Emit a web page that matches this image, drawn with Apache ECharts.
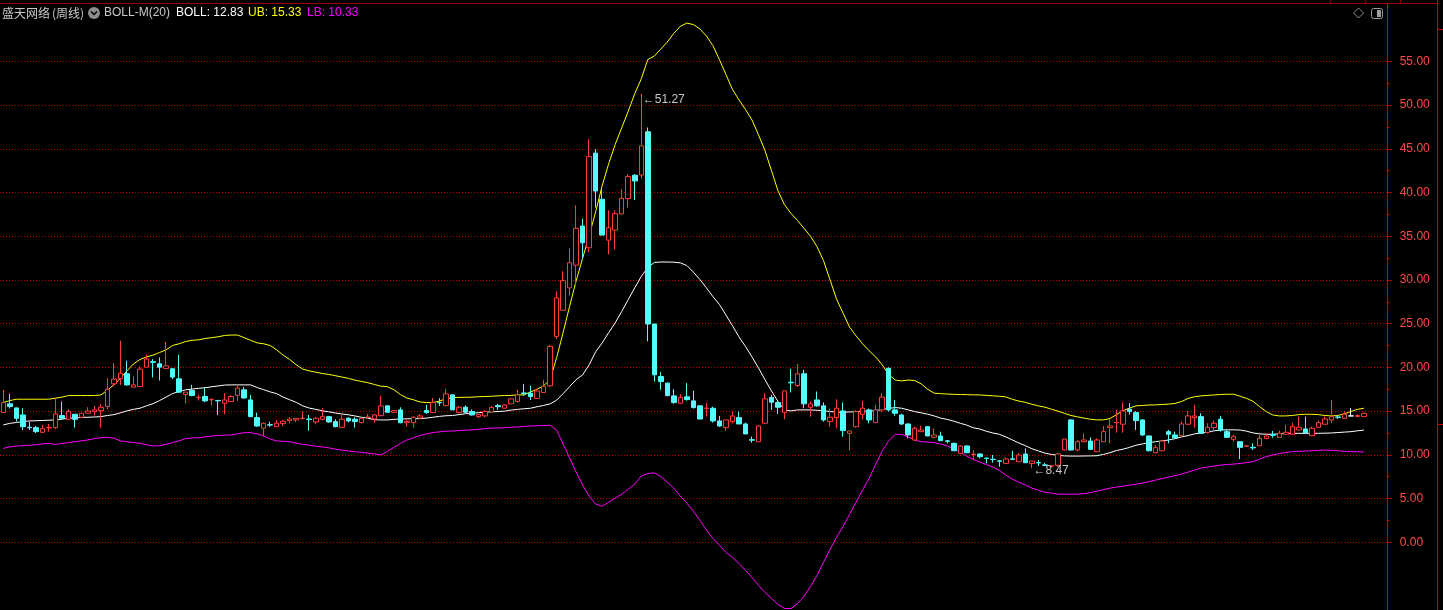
<!DOCTYPE html>
<html><head><meta charset="utf-8">
<script src="https://cdn.jsdelivr.net/npm/echarts@6/dist/echarts.min.js"></script>
<style>html,body{margin:0;padding:0;background:#000;}#c{width:1443px;height:610px;}</style>
</head><body><div id="c"></div>
<script>
const opens = [14.83,15.83,15.37,14.56,13.15,13.11,12.58,13.08,13.11,14.49, 14.07,14.64,14.3,14.76,14.95,15.06,15.52,18.12,18.73,19.27, 17.74,17.81,20.03,20.65,20.41,19.88,19.84,18.69,16.9,17.35, 16.52,16.67,16.29,16.22,15.9,16.09,16.82,17.43,16.28,14.26, 13.04,13.45,13.22,13.57,13.91,14.0,14.15,14.1,13.76,14.07, 14.37,13.8,13.15,14.18,14.07,13.68,14.27,14.1,14.48,15.6, 14.87,15.14,13.68,13.68,14.22,15.06,14.83,16.0,15.63,16.86, 14.83,15.44,14.95,14.37,14.45,14.91,15.63,15.33,15.83,16.09, 17.08,17.05,16.45,17.13,17.89,23.54,26.53,29.09,31.69,36.16, 33.68,44.5,39.22,34.55,35.7,37.54,39.3,41.97,42.0,46.94, 24.96,18.96,18.2,16.74,15.9,16.63,16.17,15.6,15.3,15.33, 13.88,13.11,13.8,14.26,13.53,11.73,11.5,13.61,16.55,15.98, 14.87,18.3,17.93,19.27,15.44,16.28,15.6,13.8,14.26,15.02, 12.46,13.22,14.64,15.14,13.68,15.14,19.9,15.14,14.56,13.53, 11.7,12.65,13.22,12.0,12.16,11.6,11.32,10.17,11.01,10.03, 10.09,9.62,9.5,9.31,9.02,9.54,9.21,10.09,9.02,9.12, 8.85,8.7,8.8,10.55,13.99,10.55,11.5,11.58,10.36,11.5, 13.11,13.66,13.5,15.22,14.83,13.99,12.16,10.24,10.47,12.65, 12.27,12.19,13.5,14.26,14.37,12.54,13.11,14.07,12.65,11.78, 11.5,10.98,10.86,11.04,11.89,12.3,12.0,12.35,12.35,12.84, 12.96,12.19,13.15,13.5,13.99,14.33,14.18,14.45,14.4,14.37];
const closes = [15.98,15.52,14.18,13.22,13.1,12.65,12.99,13.14,14.68,14.18, 14.95,14.07,14.76,15.02,15.14,15.44,17.51,18.66,19.34,18.0, 18.0,19.8,20.95,20.58,20.03,20.18,18.89,17.17,17.17,16.78, 16.58,16.17,16.35,16.18,16.28,16.67,17.62,16.51,14.37,13.3, 13.61,13.4,13.61,13.84,14.1,14.18,14.2,14.05,14.18,14.37, 13.76,13.22,14.07,13.88,13.8,14.18,14.32,14.56,15.6,14.87, 15.06,13.68,13.84,14.3,14.45,14.83,15.98,15.95,16.97,15.14, 15.44,14.87,14.56,14.6,14.95,15.4,15.5,15.71,16.4,16.86, 17.02,16.67,17.3,17.85,22.4,27.95,29.93,31.96,35.9,34.25, 44.11,40.17,35.13,35.97,37.58,39.33,41.82,41.32,45.33,24.96, 19.15,18.38,16.78,15.98,16.55,16.32,15.4,14.1,15.36,13.88, 13.3,13.99,14.45,13.53,12.39,11.68,13.3,16.4,16.02,15.44, 17.32,18.24,19.27,15.83,15.83,15.6,13.99,14.3,15.33,12.77, 12.73,14.95,15.33,13.99,15.14,16.59,15.14,14.76,13.53,12.27, 13.04,12.84,12.16,12.27,11.62,11.55,10.47,11.01,10.24,10.09, 9.79,9.58,9.46,9.27,9.52,9.5,9.98,9.1,9.29,9.08, 8.81,8.75,10.1,11.81,10.55,11.5,11.7,10.63,11.7,12.65, 13.3,13.7,15.02,14.95,13.91,12.27,10.47,10.82,11.58,12.35, 11.96,13.53,14.45,14.45,12.46,13.15,13.61,12.84,12.0,12.08, 10.86,11.04,10.8,11.89,12.16,12.24,12.46,12.58,13.22,13.15, 12.46,13.04,13.68,14.1,14.37,14.28,14.64,14.45,14.5,14.76];
const lows = [14.8,15.3,13.8,12.84,12.84,12.5,12.5,12.65,12.96,14.07, 14.07,13.11,14.2,14.76,14.5,13.11,15.22,17.81,18.0,17.89, 17.74,17.81,20.03,18.85,18.5,19.88,18.66,17.1,15.9,16.7, 16.2,16.02,15.68,14.53,14.64,16.09,16.17,16.4,14.3,13.2, 12.16,13.2,13.2,13.3,13.6,13.75,14.05,12.77,13.49,13.95, 13.7,13.15,13.15,13.72,13.11,13.6,14.18,13.68,14.4,14.85, 14.8,13.6,13.22,13.11,14.1,14.7,14.83,15.6,15.55,15.14, 14.75,14.8,14.5,14.18,14.3,14.9,15.14,15.33,15.83,16.0, 16.74,16.28,16.4,17.1,17.74,23.24,26.5,28.21,29.28,32.42, 33.18,38.27,35.13,32.91,33.49,37.5,38.27,39.14,41.6,22.97, 18.38,17.43,16.67,15.83,15.83,16.2,15.3,14.05,14.37,13.68, 13.2,12.73,13.6,13.53,12.39,11.39,11.5,13.61,15.14,14.68, 14.07,17.13,17.74,15.33,14.37,15.5,13.8,13.22,13.04,12.08, 10.47,13.1,14.07,13.61,13.68,14.9,14.95,14.45,13.4,11.89, 11.6,12.6,12.16,11.9,11.6,11.32,10.47,10.1,10.2,9.48, 9.6,9.02,9.1,8.64,9.0,9.4,9.2,9.05,8.47,8.72, 8.7,8.6,8.6,10.5,10.5,10.4,11.5,10.55,10.36,11.5, 11.32,12.54,12.54,14.6,12.84,12.16,10.4,10.2,10.45,11.32, 11.96,12.19,13.5,13.11,12.46,12.46,12.65,12.65,12.0,11.5, 9.52,10.95,10.55,11.04,11.78,11.96,12.0,12.35,12.35,12.84, 12.46,12.19,13.15,13.5,13.61,14.1,14.1,14.45,14.3,14.37];
const highs = [17.43,16.97,15.4,15.33,13.8,13.3,13.42,13.53,16.48,16.09, 15.22,14.64,14.8,15.44,15.6,15.83,18.77,20.49,23.05,20.76, 18.96,20.1,21.44,20.95,21.14,22.9,19.9,21.44,17.17,18.0, 16.9,17.62,16.4,16.22,17.05,16.85,17.9,17.74,16.86,14.83, 13.7,13.8,13.99,13.99,14.3,14.18,14.95,14.56,14.3,15.33, 14.45,14.07,14.56,14.3,14.3,14.18,14.68,14.7,16.74,15.65, 15.14,15.44,13.99,14.45,14.68,15.71,16.48,16.48,17.55,16.86, 15.6,15.65,15.2,14.7,15.1,15.6,15.83,15.8,16.48,17.43, 18.12,17.9,17.6,18.58,22.59,28.71,31.0,33.6,38.53,37.0, 46.1,44.95,40.56,37.96,37.96,40.37,42.09,42.1,51.27,47.44, 24.96,19.46,18.3,17.51,16.93,18.2,17.32,15.7,15.9,15.5, 14.45,13.99,14.95,14.95,13.68,12.08,13.4,17.05,16.86,16.2, 17.32,19.84,20.41,19.72,16.09,17.24,16.0,15.22,16.36,15.98, 12.73,15.1,16.17,15.3,15.71,17.05,20.0,16.28,14.7,13.6, 13.22,13.34,13.3,13.04,12.65,11.7,11.4,11.1,11.1,10.55, 10.2,9.7,9.98,9.4,9.7,10.47,10.2,10.74,9.29,9.4, 9.1,8.85,10.2,11.81,14.1,11.7,12.46,12.0,11.9,13.3, 14.07,15.14,15.98,15.9,15.0,14.07,12.2,11.12,11.7,12.84, 12.65,13.8,15.02,15.71,14.76,13.61,13.91,14.45,12.92,12.27, 11.5,11.1,11.32,12.27,12.46,12.73,12.77,13.42,13.68,14.37, 14.37,13.22,13.91,14.37,16.28,14.56,14.95,15.33,14.64,14.8];
const bollMid = [13.42,13.6,13.7,13.8,13.88,13.9,13.93,13.96,13.99,14.08, 14.18,14.22,14.28,14.3,14.33,14.37,14.5,14.6,14.8,15.03, 15.2,15.33,15.6,15.85,16.2,16.6,17.0,17.25,17.43,17.52, 17.6,17.68,17.78,17.88,17.98,18.0,18.0,18.0,18.0,17.7, 17.45,17.2,17.0,16.6,16.3,16.0,15.6,15.35,15.2,15.03, 14.92,14.78,14.68,14.58,14.45,14.3,14.2,14.02,13.99,13.99, 14.05,14.1,14.12,14.13,14.14,14.2,14.3,14.4,14.47,14.5, 14.6,14.7,14.76,14.82,14.88,14.92,14.95,15.0,15.12,15.2, 15.27,15.33,15.5,15.65,15.83,16.25,17.0,17.8,18.6,19.15, 20.3,21.8,22.8,23.97,25.1,26.4,27.75,29.1,30.4,31.4, 32.0,32.05,32.05,32.03,31.95,31.65,30.9,30.05,29.1,28.1, 27.2,26.0,24.77,23.5,22.4,21.2,19.95,18.6,17.3,16.1, 15.14,15.02,15.14,15.14,15.14,15.1,15.05,14.95,14.9,14.87, 14.9,14.95,14.98,15.0,15.05,15.2,15.3,15.41,15.33,15.14, 14.95,14.8,14.65,14.45,14.2,14.05,13.85,13.61,13.4,13.1, 12.95,12.7,12.5,12.35,12.05,11.7,11.35,11.05,10.7,10.45, 10.2,10.05,9.95,9.88,9.86,9.86,9.87,9.88,9.9,10.05, 10.25,10.5,10.65,10.85,11.1,11.25,11.4,11.5,11.6,11.7, 11.85,12.05,12.2,12.4,12.5,12.6,12.75,12.84,12.86,12.86, 12.84,12.7,12.5,12.4,12.35,12.35,12.4,12.45,12.46,12.46, 12.46,12.46,12.46,12.48,12.5,12.55,12.6,12.65,12.75,12.83];
const bollUpper = [15.98,16.2,16.36,16.36,16.36,16.36,16.36,16.36,16.48,16.6, 16.78,16.78,16.78,16.78,16.78,16.85,17.4,18.0,18.75,19.6, 20.4,20.9,21.2,21.4,21.7,22.0,22.5,22.7,22.95,23.1, 23.15,23.3,23.4,23.5,23.65,23.7,23.7,23.4,23.1,22.8, 22.7,22.5,22.0,21.4,20.9,20.3,19.8,19.6,19.45,19.3, 19.2,19.05,18.9,18.75,18.55,18.4,18.25,18.05,17.85,17.8, 17.45,16.9,16.5,16.3,16.05,15.98,15.98,16.15,16.4,16.55, 16.57,16.58,16.6,16.65,16.67,16.7,16.75,16.78,16.8,16.85, 16.86,17.2,17.5,17.9,18.6,21.1,24.0,27.0,29.9,32.5, 35.1,37.8,40.8,43.3,45.5,47.4,49.3,51.3,53.0,55.2, 55.6,56.4,57.2,58.2,59.0,59.37,59.2,58.7,57.9,56.8, 55.2,53.5,51.8,50.6,49.5,48.3,46.6,44.8,42.5,40.2, 38.6,37.6,36.8,35.9,35.0,33.8,32.2,30.0,27.8,26.2, 24.6,23.6,22.7,21.9,21.2,20.3,19.2,18.55,18.46,18.55, 18.5,18.12,17.5,17.05,17.0,16.95,16.92,16.9,16.88,16.86, 16.85,16.8,16.75,16.7,16.62,16.35,16.15,16.0,15.78,15.6, 15.45,15.22,15.0,14.75,14.5,14.35,14.2,14.07,14.0,14.0, 14.15,14.6,15.05,15.35,15.6,15.65,15.7,15.71,15.75,15.8, 15.88,16.1,16.45,16.65,16.74,16.8,16.85,16.9,16.93,16.93, 16.7,16.45,16.1,15.5,14.95,14.56,14.45,14.45,14.5,14.6, 14.64,14.64,14.6,14.5,14.45,14.5,14.7,14.95,15.2,15.33];
const bollLower = [10.74,10.9,11.0,11.05,11.1,11.15,11.25,11.32,11.2,11.3, 11.39,11.5,11.6,11.7,11.85,11.96,12.0,11.9,11.6,11.5, 11.4,11.32,11.15,11.01,11.05,11.2,11.4,11.6,11.85,11.93, 11.96,12.05,12.15,12.2,12.25,12.27,12.4,12.54,12.54,12.4, 12.16,11.8,11.6,11.55,11.5,11.35,11.2,11.1,10.98,10.9, 10.8,10.65,10.55,10.45,10.36,10.3,10.2,10.1,10.0,10.4, 10.85,11.3,11.7,11.95,12.2,12.4,12.55,12.63,12.7,12.73, 12.78,12.82,12.86,12.92,13.0,13.05,13.08,13.1,13.15,13.2, 13.25,13.3,13.33,13.36,13.38,12.84,11.24,9.63,8.03,6.54, 5.28,4.36,4.13,4.59,5.05,5.5,6.08,6.65,7.6,7.85, 7.95,7.5,6.88,6.19,5.28,4.47,3.56,2.52,1.38,0.46, -0.34,-1.15,-1.72,-2.41,-3.21,-4.01,-4.93,-5.73,-6.42,-7.11, -7.57,-7.57,-7.0,-6.19,-5.05,-3.78,-2.29,-0.8,0.57,1.83, 3.21,4.6,6.0,7.3,8.9,10.4,11.6,12.35,12.33,12.04, 11.7,11.5,11.47,11.39,11.24,11.01,10.72,10.32,9.86,9.46, 9.17,8.89,8.6,8.2,7.68,7.22,6.88,6.54,6.19,5.96, 5.73,5.62,5.5,5.5,5.5,5.5,5.56,5.68,5.85,6.02, 6.19,6.31,6.42,6.54,6.65,6.77,6.94,7.11,7.28,7.45, 7.63,7.8,8.03,8.26,8.49,8.6,8.72,8.83,8.89,8.94, 9.02,9.12,9.23,9.52,9.8,9.98,10.15,10.28,10.36,10.4, 10.44,10.47,10.51,10.55,10.51,10.47,10.4,10.36,10.36,10.33];
const yTicks = [0,5,10,15,20,25,30,35,40,45,50,55];
const extraSlots = 3;
const categories = Array.from({length: opens.length + extraSlots}, (_, i) => 'W' + (i + 1));
const highIdx = 98, lowIdx = 158;

const candles = opens.map((o, i) => [o, closes[i], lows[i], highs[i]]);
const RED = '#ff3b3b', CYAN = '#54fcfc';
const LATIN = '"Liberation Sans", Arial, sans-serif';
const CJK = '12px "Noto Sans CJK SC", sans-serif';

const chart = echarts.init(document.getElementById('c'), null, {renderer: 'canvas'});
const lineS = (name, data, color) => ({
  name, type: 'line', data, symbol: 'none', showSymbol: false, clip: false, silent: true,
  lineStyle: {color, width: 1}, z: 3
});
const option = {
  backgroundColor: '#000',
  animation: false,
  grid: {left: -2.1, right: 56.3, top: 61.3, bottom: 67.7},
  xAxis: {type: 'category', data: categories, boundaryGap: true, show: false},
  yAxis: {
    type: 'value', position: 'right', min: 0, max: 55, interval: 5,
    axisLine: {show: false},
    axisTick: {show: true, length: 5, lineStyle: {color: '#d40000'}},
    minorTick: {show: true, splitNumber: 2, length: 3, lineStyle: {color: '#d40000'}},
    axisLabel: {color: '#ff4a4a', fontSize: 12, fontFamily: LATIN, margin: 13,
      formatter: v => yTicks.includes(v) ? v.toFixed(2) : ''},
    splitLine: {show: true, lineStyle: {color: '#b80000', type: [1, 2], width: 1}}
  },
  series: [
    {
      type: 'candlestick', data: candles, barWidth: 5, clip: false, z: 4,
      itemStyle: {color: '#000', color0: CYAN, borderColor: RED, borderColor0: CYAN, borderColorDoji: '#ffffff', borderWidth: 1},
      markPoint: {
        symbol: 'circle', symbolSize: 1, itemStyle: {color: 'rgba(0,0,0,0)'}, silent: true,
        label: {show: true, position: 'right', color: '#c8c8c8', fontSize: 12, fontFamily: LATIN},
        data: [
          {coord: [highIdx, highs[highIdx]], value: highs[highIdx], label: {formatter: '\u2190' + highs[highIdx].toFixed(2), offset: [0, 6], distance: 1}},
          {coord: [lowIdx, lows[lowIdx]], value: lows[lowIdx], label: {formatter: '\u2190' + lows[lowIdx].toFixed(2), offset: [0, 2], distance: 1}}
        ]
      }
    },
    lineS('BOLL', bollMid, '#ffffff'),
    lineS('UB', bollUpper, '#ffff00'),
    lineS('LB', bollLower, '#ff00ff')
  ],
  graphic: [
    {type: 'line', shape: {x1: 0, y1: 3.5, x2: 1437, y2: 3.5}, style: {stroke: '#a00000', lineWidth: 1}, silent: true},
    {type: 'line', shape: {x1: 1387.5, y1: 3, x2: 1387.5, y2: 610}, style: {stroke: '#d40000', lineWidth: 1}, silent: true},
    {type: 'line', shape: {x1: 1437.5, y1: 0, x2: 1437.5, y2: 610}, style: {stroke: '#d40000', lineWidth: 1}, silent: true},
    {type: 'line', shape: {x1: 1437, y1: 29.5, x2: 1443, y2: 29.5}, style: {stroke: '#d40000', lineWidth: 1}, silent: true},
    {type: 'line', shape: {x1: 1437, y1: 424.5, x2: 1443, y2: 424.5}, style: {stroke: '#d40000', lineWidth: 1}, silent: true},
    {type: 'line', shape: {x1: 1330.5, y1: 0, x2: 1330.5, y2: 3}, style: {stroke: '#a00000'}, silent: true},
    {type: 'line', shape: {x1: 1365.5, y1: 0, x2: 1365.5, y2: 3}, style: {stroke: '#a00000'}, silent: true},
    {type: 'line', shape: {x1: 1400.5, y1: 0, x2: 1400.5, y2: 3}, style: {stroke: '#a00000'}, silent: true},
    {type: 'text', x: 2, y: 13, style: {text: '盛天网络', fill: '#c8c8c8', font: CJK, verticalAlign: 'middle'}, silent: true},
    {type: 'text', x: 52, y: 13, style: {text: '(周线)', fill: '#c8c8c8', font: CJK, verticalAlign: 'middle'}, silent: true},
    {type: 'circle', shape: {cx: 94, cy: 13, r: 6}, style: {fill: '#8c8c8c'}, silent: true},
    {type: 'polyline', shape: {points: [[91, 11.5], [94, 14.5], [97, 11.5]]}, style: {stroke: '#000', lineWidth: 1.5, fill: null}, silent: true},
    {type: 'text', x: 104, y: 13, style: {text: 'BOLL-M(20)', fill: '#c8c8c8', font: '12px ' + LATIN, verticalAlign: 'middle'}, silent: true},
    {type: 'text', x: 176, y: 13, style: {text: 'BOLL: 12.83', fill: '#ffffff', font: '12px ' + LATIN, verticalAlign: 'middle'}, silent: true},
    {type: 'text', x: 248, y: 13, style: {text: 'UB: 15.33', fill: '#ffff00', font: '12px ' + LATIN, verticalAlign: 'middle'}, silent: true},
    {type: 'text', x: 307, y: 13, style: {text: 'LB: 10.33', fill: '#ff00ff', font: '12px ' + LATIN, verticalAlign: 'middle'}, silent: true},
    {type: 'polygon', shape: {points: [[1358.5, 8], [1363.5, 13], [1358.5, 18], [1353.5, 13]]}, style: {stroke: '#8c8c8c', fill: null, lineWidth: 1}, silent: true},
    {type: 'rect', shape: {x: 1371.5, y: 8.5, width: 11, height: 10, r: 2}, style: {stroke: '#9a9a9a', fill: null, lineWidth: 1}, silent: true},
    {type: 'rect', shape: {x: 1377, y: 10, width: 4, height: 7}, style: {fill: '#9a9a9a'}, silent: true}
  ]
};
chart.setOption(option);
</script></body></html>
